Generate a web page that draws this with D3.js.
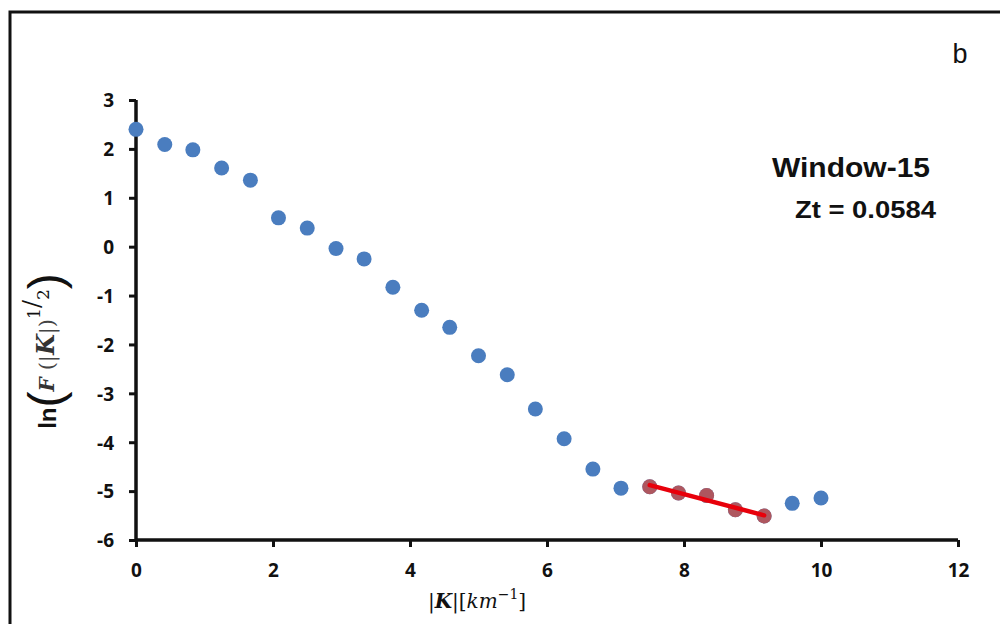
<!DOCTYPE html>
<html>
<head>
<meta charset="utf-8">
<script src="https://cdn.jsdelivr.net/npm/d3@7"></script>
<style>
  body { margin: 0; background: #fff; }
  .tick text { font-family: "Open Sans", "Liberation Sans", sans-serif; font-weight: 700; font-size: 19px; fill: #111; }
</style>
</head>
<body>
<div id="chart"></div>
<script>
// wavenumber |K| and log spectrum values
var kValues = [0, 0.42, 0.83, 1.25, 1.67, 2.08, 2.5, 2.92, 3.33, 3.75, 4.17, 4.58, 5.0,
               5.42, 5.83, 6.25, 6.67, 7.08, 7.5, 7.92, 8.33, 8.75, 9.17, 9.58, 10.0];
var lnF = [2.40, 2.09, 1.98, 1.61, 1.36, 0.59, 0.38, -0.04, -0.25, -0.83, -1.30, -1.65, -2.23,
           -2.62, -3.32, -3.93, -4.55, -4.94, -4.91, -5.04, -5.09, -5.38, -5.51, -5.25, -5.14];
// indices of the points used for the straight-line fit
var fitIdx = [18, 19, 20, 21, 22];

var xTicks = [0, 2, 4, 6, 8, 10, 12];
var yTicks = [3, 2, 1, 0, -1, -2, -3, -4, -5, -6];

var width = 1000, height = 624;

var svg = d3.select("#chart").append("svg")
    .attr("width", width)
    .attr("height", height);

// frame round the figure
svg.append("rect")
    .attr("x", 10).attr("y", 12)
    .attr("width", 1010).attr("height", 630)
    .attr("fill", "none")
    .attr("stroke", "#111")
    .attr("stroke-width", 3);

var x = d3.scaleLinear().domain([0, 12]).range([136, 958]);
var y = d3.scaleLinear().domain([-6, 3]).range([540, 100]);

// plain hyphen for negatives
var fmt = function (d) { return String(d); };

var xAxis = svg.append("g")
    .attr("transform", "translate(0," + y(-6) + ")")
    .call(d3.axisBottom(x).tickValues(xTicks).tickSize(7).tickPadding(17).tickFormat(fmt));

var yAxis = svg.append("g")
    .attr("transform", "translate(" + x(0) + ",0)")
    .call(d3.axisLeft(y).tickValues(yTicks).tickSize(7).tickPadding(15).tickFormat(fmt));

[xAxis, yAxis].forEach(function (g) {
    g.select(".domain").attr("stroke", "#111").attr("stroke-width", 3.5);
    g.selectAll(".tick line").attr("stroke", "#111").attr("stroke-width", 3);
});
xAxis.select(".domain").attr("d", "M" + x(0) + ",0H" + x(12));
yAxis.select(".domain").attr("d", "M0," + y(-6) + "V" + y(3));
yAxis.selectAll(".tick text").attr("dy", "0.36em");

var pts = kValues.map(function (k, i) { return { k: k, v: lnF[i] }; });

// all points
svg.selectAll("circle.all")
    .data(pts)
    .enter()
    .append("circle")
    .attr("class", "all")
    .attr("cx", function (d) { return x(d.k); })
    .attr("cy", function (d) { return y(d.v); })
    .attr("r", 7.5)
    .attr("fill", "#4a7dbf");

// fitted points in red
var fitPts = fitIdx.map(function (i) { return pts[i]; });
svg.selectAll("circle.fit")
    .data(fitPts)
    .enter()
    .append("circle")
    .attr("class", "fit")
    .attr("cx", function (d) { return x(d.k); })
    .attr("cy", function (d) { return y(d.v); })
    .attr("r", 7.5)
    .attr("fill", "#c0504d")
    .attr("opacity", 0.85);

// least squares line through the red points
var mk = d3.mean(fitPts, function (d) { return d.k; });
var mv = d3.mean(fitPts, function (d) { return d.v; });
var slope = d3.sum(fitPts, function (d) { return (d.k - mk) * (d.v - mv); }) /
            d3.sum(fitPts, function (d) { return (d.k - mk) * (d.k - mk); });
var k0 = fitPts[0].k, k1 = fitPts[fitPts.length - 1].k;
svg.append("line")
    .attr("x1", x(k0)).attr("y1", y(mv + slope * (k0 - mk)))
    .attr("x2", x(k1)).attr("y2", y(mv + slope * (k1 - mk)))
    .attr("stroke", "#e8000b")
    .attr("stroke-width", 4.5)
    .attr("stroke-linecap", "round");

// annotations
svg.append("text")
    .attr("x", 960).attr("y", 63)
    .attr("text-anchor", "middle")
    .style("font-family", "Liberation Sans, Arial, sans-serif")
    .style("font-size", "27px")
    .attr("fill", "#111")
    .text("b");

svg.append("text")
    .attr("x", 772).attr("y", 177)
    .attr("textLength", 158)
    .attr("lengthAdjust", "spacingAndGlyphs")
    .style("font-family", "Liberation Sans, Arial, sans-serif")
    .style("font-weight", "700")
    .style("font-size", "28px")
    .attr("fill", "#111")
    .text("Window-15");

svg.append("text")
    .attr("x", 795).attr("y", 218)
    .attr("textLength", 141)
    .attr("lengthAdjust", "spacingAndGlyphs")
    .style("font-family", "Liberation Sans, Arial, sans-serif")
    .style("font-weight", "700")
    .style("font-size", "23px")
    .attr("fill", "#111")
    .text("Zt = 0.0584");

// x axis title
var xt = svg.append("text")
    .attr("x", 477).attr("y", 608)
    .attr("text-anchor", "middle")
    .style("font-family", "DejaVu Serif, Liberation Serif, serif")
    .style("font-size", "20px")
    .attr("fill", "#111");
xt.append("tspan").text("|");
xt.append("tspan").style("font-style", "italic").style("font-weight", "700").text("K");
xt.append("tspan").text("|[");
xt.append("tspan").style("font-style", "italic").text("km");
xt.append("tspan").attr("dy", -9).style("font-size", "14px").text("\u22121");
xt.append("tspan").attr("dy", 9).text("]");

// y axis title
var serif = "DejaVu Serif, serif";
var yt = svg.append("text")
    .attr("transform", "translate(56,351) rotate(-90)")
    .attr("text-anchor", "middle")
    .attr("fill", "#111")
    .style("font-family", "Liberation Sans, Arial, sans-serif");
yt.append("tspan").style("font-weight", "700").style("font-size", "24px").text("ln");
yt.append("tspan").style("font-size", "48px").style("font-weight", "300").attr("dy", 6).text("(");
yt.append("tspan").attr("dy", -8).attr("fill", "#333").style("font-family", serif).style("font-style", "italic").style("font-weight", "700").style("font-size", "20px").text("F ");
yt.append("tspan").attr("fill", "#444").style("font-family", serif).style("font-size", "21px").text("(|");
yt.append("tspan").attr("fill", "#333").style("font-family", serif).style("font-style", "italic").style("font-weight", "700").style("font-size", "24px").text("K");
yt.append("tspan").attr("fill", "#444").style("font-family", serif).style("font-size", "21px").text("|)");
yt.append("tspan").attr("dy", -14).style("font-family", serif).style("font-size", "17px").text("1");
yt.append("tspan").style("font-family", serif).style("font-size", "24px").text("/");
yt.append("tspan").attr("dy", 9).style("font-family", serif).style("font-size", "17px").text("2");
yt.append("tspan").attr("dy", 13).style("font-size", "48px").style("font-weight", "300").text(")");
</script>
</body>
</html>
